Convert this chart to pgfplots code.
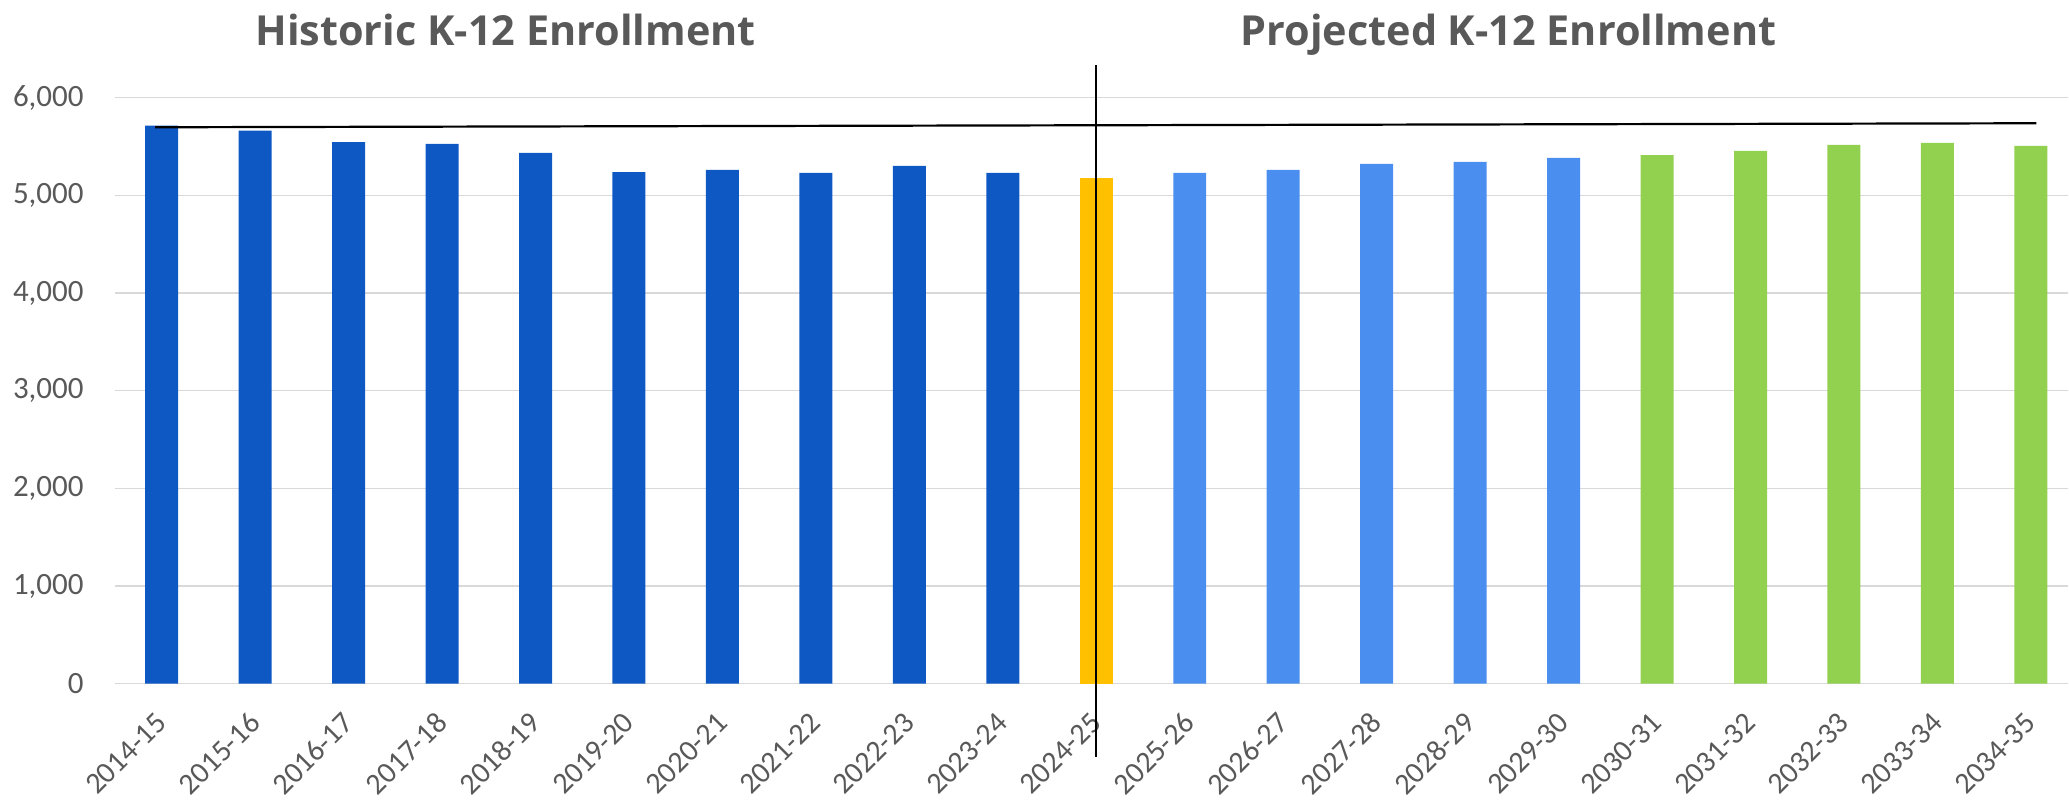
\documentclass[border=0pt]{standalone}
\usepackage{pgfplots}
\pgfplotsset{compat=1.18}
\usepackage{fontspec}
\setmainfont{Carlito}
\newfontfamily\titlefont{Open Sans}
\definecolor{txt}{HTML}{595959}
\definecolor{gridc}{HTML}{D9D9D9}
\definecolor{dblue}{HTML}{0E58C3}
\definecolor{lblue}{HTML}{4A8EEF}
\definecolor{gold}{HTML}{FFC000}
\definecolor{lgreen}{HTML}{92D050}
\begin{document}
\begin{tikzpicture}
\begin{axis}[
  name=main,
  scale only axis,
  width=977pt, height=293.15pt,
  xmin=-0.5, xmax=20.4,
  ymin=0, ymax=6000,
  clip=false,
  axis line style={draw=none},
  major tick length=0pt,
  ytick={0,1000,2000,3000,4000,5000,6000},
  ymajorgrids, xmajorgrids=false,
  major grid style={draw=gridc, line width=0.75pt},
  xtick={0,...,20},
  xticklabels={2014-15,2015-16,2016-17,2017-18,2018-19,2019-20,2020-21,2021-22,2022-23,2023-24,2024-25,2025-26,2026-27,2027-28,2028-29,2029-30,2030-31,2031-32,2032-33,2033-34,2034-35},
  /pgf/number format/assume math mode=true,
  /pgf/number format/1000 sep={,},
  scaled y ticks=false,
  ticklabel style={font=\fontsize{15.5}{18}\selectfont, text=txt},
  yticklabel style={inner sep=0pt, xshift=-15.5pt},
  xticklabel style={inner sep=0pt, font=\fontsize{15}{18}\selectfont, xshift=0pt, yshift=-17pt, rotate=45, anchor=east},
  ybar, bar width=16.5pt, bar shift=0pt,
]
\addplot[fill=dblue, draw=none] coordinates {(0,5714) (1,5662) (2,5546) (3,5526) (4,5434) (5,5239) (6,5260) (7,5229) (8,5301) (9,5229)};
\addplot[fill=gold, draw=none] coordinates {(10,5178)};
\addplot[fill=lblue, draw=none] coordinates {(11,5229) (12,5260) (13,5321) (14,5342) (15,5383)};
\addplot[fill=lgreen, draw=none] coordinates {(16,5413) (17,5454) (18,5516) (19,5536) (20,5506)};
\addplot[sharp plot, black, line width=1.1pt, forget plot] coordinates {(-0.07,5697) (20.06,5738)};
\addplot[sharp plot, black, line width=1pt, forget plot] coordinates {(10,-750) (10,6334)};
\node[anchor=base, text=txt, font=\titlefont\bfseries\fontsize{20.7}{25}\selectfont] at (axis cs:3.68,6539) {Historic K-12 Enrollment};
\node[anchor=base, text=txt, font=\titlefont\bfseries\fontsize{20.7}{25}\selectfont] at (axis cs:14.41,6539) {Projected K-12 Enrollment};
\end{axis}
\path (main.south west) ++(-57.5pt,-61.5pt) rectangle ++(1034.5pt,403.5pt);
\end{tikzpicture}
\end{document}
